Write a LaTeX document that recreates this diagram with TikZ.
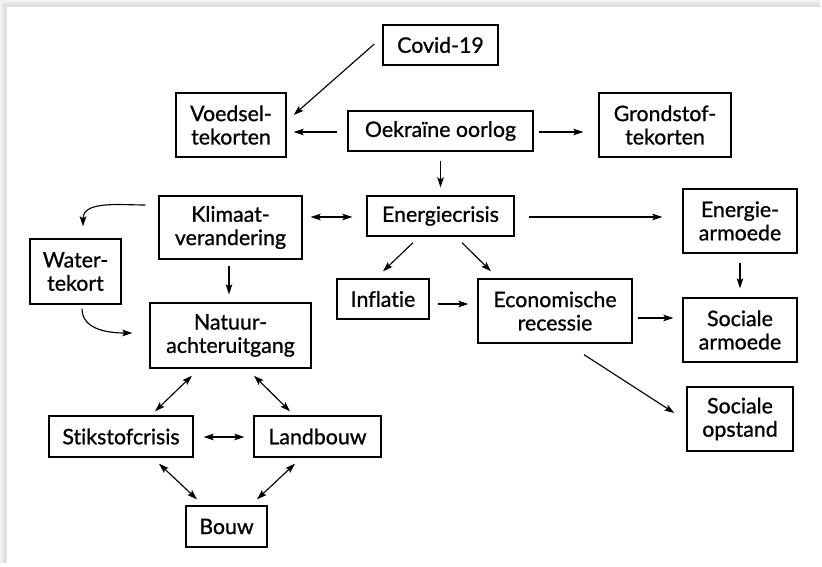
\documentclass[tikz,border=0pt]{standalone}
\usepackage{fontspec}
\setmainfont{Lato}
\newfontfamily\boxfont{Lato}[FakeBold=0.9,Ligatures=NoCommon]
\usetikzlibrary{arrows.meta}
\begin{document}
\begin{tikzpicture}[x=0.75pt,y=-0.75pt,
  box/.style={draw=black,line width=1pt,fill=white,inner sep=0pt,align=center,
    font=\boxfont\fontsize{16}{17.5}\selectfont},
  arr/.style={line width=0.85pt,-{Stealth[length=7.5pt,width=5pt,inset=1.5pt]}},
  darr/.style={line width=0.85pt,{Stealth[length=7.5pt,width=5pt,inset=1.5pt]}-{Stealth[length=7.5pt,width=5pt,inset=1.5pt]}}]
\useasboundingbox (0,0) rectangle (822,567);
% card with shadow
\fill[black!5] (0,0) rectangle (820,563);
\fill[black!9] (2,2) rectangle (820,563);
\fill[black!13] (4,4) rectangle (820,563);
\fill[white] (7,7) rectangle (822,567);
% nodes
\node[box,minimum width=115*0.75pt,minimum height=40*0.75pt] (covid) at (440.5,45) {Covid-19};
\node[box,minimum width=110*0.75pt,minimum height=64*0.75pt] (voedsel) at (231,125) {Voedsel-\\tekorten};
\node[box,minimum width=185*0.75pt,minimum height=40*0.75pt] (oekr) at (440.5,131) {Oekraïne oorlog};
\node[box,minimum width=132*0.75pt,minimum height=64*0.75pt] (grond) at (665,125) {Grondstof-\\tekorten};
\node[box,minimum width=143*0.75pt,minimum height=63*0.75pt] (klimaat) at (230.5,227.5) {Klimaat-\\verandering};
\node[box,minimum width=147*0.75pt,minimum height=40*0.75pt] (energie) at (440.5,216) {Energiecrisis};
\node[box,minimum width=114*0.75pt,minimum height=64*0.75pt] (earm) at (740,221) {Energie-\\armoede};
\node[box,minimum width=91*0.75pt,minimum height=65*0.75pt] (water) at (75.5,271.5) {Water-\\tekort};
\node[box,minimum width=161*0.75pt,minimum height=65*0.75pt] (natuur) at (230.5,335.5) {Natuur-\\achteruitgang};
\node[box,minimum width=92*0.75pt,minimum height=40*0.75pt] (infl) at (383,299) {Inflatie};
\node[box,minimum width=154*0.75pt,minimum height=64*0.75pt] (eco) at (555,311) {Economische\\recessie};
\node[box,minimum width=114*0.75pt,minimum height=64*0.75pt] (sarm) at (740,330) {Sociale\\armoede};
\node[box,minimum width=106*0.75pt,minimum height=64*0.75pt] (sopst) at (740,419) {Sociale\\opstand};
\node[box,minimum width=144*0.75pt,minimum height=41*0.75pt] (stik) at (121,436.5) {Stikstofcrisis};
\node[box,minimum width=127*0.75pt,minimum height=41*0.75pt] (land) at (317.5,436.5) {Landbouw};
\node[box,minimum width=81*0.75pt,minimum height=41*0.75pt] (bouw) at (226.5,526.5) {Bouw};
% connectors
\draw[arr] ([shift={(-8,-1)}]covid.west) -- ([shift={(7,-10)}]voedsel.east);
\draw[arr] ([shift={(-10,1)}]oekr.west) -- ([shift={(7,7)}]voedsel.east);
\draw[arr] ([shift={(5,1)}]oekr.east) -- ([shift={(-15,7)}]grond.west);
\draw[arr] ([shift={(0,9)}]oekr.south) -- ([shift={(0,-8)}]energie.north);
\draw[darr] ([shift={(8,-10.5)}]klimaat.east) -- ([shift={(-14,1)}]energie.west);
\draw[arr] ([shift={(-13,-22.5)}]klimaat.west) to[out=180,in=90] ([shift={(7.5,-12)}]water.north);
\draw[arr] ([shift={(-1.5,6)}]klimaat.south) -- ([shift={(-1.5,-8)}]natuur.north);
\draw[arr] ([shift={(6.5,4)}]water.south) to[out=-90,in=180] ([shift={(-17,-2.5)}]natuur.west);
\draw[arr] ([shift={(-27.5,6)}]energie.south) -- ([shift={(0,-7)}]infl.north);
\draw[arr] ([shift={(21.5,6)}]energie.south) -- ([shift={(-64,-7)}]eco.north);
\draw[arr] ([shift={(14,1)}]energie.east) -- ([shift={(-20,-4)}]earm.west);
\draw[arr] ([shift={(0,9)}]earm.south) -- ([shift={(0,-9)}]sarm.north);
\draw[arr] ([shift={(8,5)}]infl.east) -- ([shift={(-9,-7)}]eco.west);
\draw[arr] ([shift={(5,7)}]eco.east) -- ([shift={(-9,-12)}]sarm.west);
\draw[arr] ([shift={(29,11)}]eco.south) -- ([shift={(-12,-6)}]sopst.west);
\draw[darr] ([shift={(-38.5,7)}]natuur.south) -- ([shift={(34,-4)}]stik.north);
\draw[darr] ([shift={(23.5,7)}]natuur.south) -- ([shift={(-27.5,-4)}]land.north);
\draw[darr] ([shift={(10,0.5)}]stik.east) -- ([shift={(-9,0.5)}]land.west);
\draw[darr] ([shift={(38,6)}]stik.south) -- ([shift={(-29.5,-6)}]bouw.north);
\draw[darr] ([shift={(-22.5,6)}]land.south) -- ([shift={(30.5,-6)}]bouw.north);
\end{tikzpicture}
\end{document}
